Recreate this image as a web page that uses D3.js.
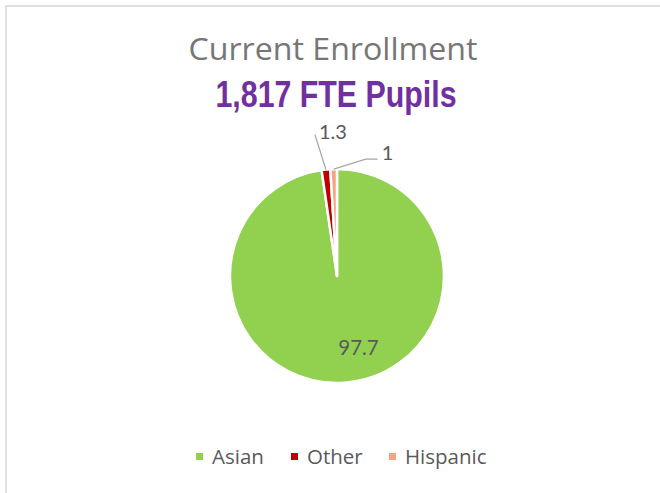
<!DOCTYPE html>
<html>
<head>
<meta charset="utf-8">
<script src="https://cdn.jsdelivr.net/npm/d3@7.9.0/dist/d3.min.js"></script>
<style>
  html, body { margin: 0; padding: 0; background: #fff; }
  svg { display: block; }
</style>
</head>
<body>
<svg id="chart" width="660" height="493"></svg>
<script>
const categories = ['Asian', 'Other', 'Hispanic'];
const shares = [97.7, 1.3, 1];
const shareLabels = ['97.7', '1.3', '1'];
const sliceColors = ['#92D050', '#C00000', '#F4A582'];

const title = 'Current Enrollment';
const subtitle = '1,817 FTE Pupils';

const data = categories.map((c, i) => ({ label: c, value: shares[i], text: shareLabels[i] }));

const svg = d3.select('#chart');
const cx = 337, cy = 276, radius = 107;

// chart frame (only top and left edges show in the crop)
svg.append('rect')
  .attr('x', 6).attr('y', 6)
  .attr('width', 700).attr('height', 520)
  .attr('fill', 'none')
  .attr('stroke', '#D9D9D9')
  .attr('stroke-width', 1.6);

svg.append('text')
  .attr('x', 333).attr('y', 60)
  .attr('text-anchor', 'middle')
  .attr('font-family', '"Open Sans", "Noto Sans", sans-serif')
  .attr('font-size', 31)
  .attr('fill', '#767676')
  .attr('textLength', 289)
  .attr('lengthAdjust', 'spacingAndGlyphs')
  .text(title);

svg.append('text')
  .attr('x', 336).attr('y', 107)
  .attr('text-anchor', 'middle')
  .attr('font-family', '"Liberation Sans Narrow", "Liberation Sans", Arial, sans-serif')
  .attr('font-weight', 'bold')
  .attr('font-size', 36)
  .attr('fill', '#7030A0')
  .attr('textLength', 241)
  .attr('lengthAdjust', 'spacingAndGlyphs')
  .text(subtitle);

const pie = d3.pie().sort(null).value(d => d.value);
const arcs = pie(data);
const arc = d3.arc().innerRadius(0).outerRadius(radius);
const color = d3.scaleOrdinal().domain(categories).range(sliceColors);

const g = svg.append('g').attr('transform', `translate(${cx},${cy})`);

g.selectAll('path')
  .data(arcs)
  .join('path')
  .attr('d', arc)
  .attr('fill', d => color(d.data.label))
  .attr('stroke', '#fff')
  .attr('stroke-width', 2.5)
  .attr('stroke-linejoin', 'round');

// big slice label inside
const innerArc = d3.arc().innerRadius(radius * 0.68).outerRadius(radius * 0.68);
const big = arcs[0];
const [bx, by] = innerArc.centroid(big);
g.append('text')
  .attr('x', bx - 4).attr('y', by + 6)
  .attr('font-family', 'Lato, "Open Sans", sans-serif')
  .attr('font-size', 20.5)
  .attr('fill', '#595959')
  .text(big.data.text);

// small slices: leader lines out of the rim
const rimArc = d3.arc().innerRadius(radius).outerRadius(radius);
const leaderSpec = {
  Other:    { bends: [[-11, -35]], dx: 4, dy: 4 },
  Hispanic: { bends: [[32, -10], [44, -10]], dx: 4, dy: 1 }
};

arcs.slice(1).forEach(d => {
  const [sx, sy] = rimArc.centroid(d);
  const spec = leaderSpec[d.data.label];
  const pts = [[sx, sy]].concat(spec.bends.map(([ox, oy]) => [sx + ox, sy + oy]));
  g.append('path')
    .attr('d', d3.line()(pts))
    .attr('fill', 'none')
    .attr('stroke', '#A6A6A6')
    .attr('stroke-width', 1.3);
  const end = pts[pts.length - 1];
  g.append('text')
    .attr('x', end[0] + spec.dx).attr('y', end[1] + spec.dy)
    .attr('font-family', 'Lato, "Open Sans", sans-serif')
    .attr('font-size', 20)
    .attr('fill', '#595959')
    .text(d.data.text);
});

// legend
const legendX = [196, 291, 389];
const legend = svg.append('g');
const items = legend.selectAll('g')
  .data(data)
  .join('g')
  .attr('transform', (d, i) => `translate(${legendX[i]},457)`);

items.append('rect')
  .attr('x', 0).attr('y', -4)
  .attr('width', 7).attr('height', 7)
  .attr('fill', d => color(d.label));

items.append('text')
  .attr('x', 16).attr('y', 7)
  .attr('font-family', '"Open Sans", "Noto Sans", sans-serif')
  .attr('font-size', 20.5)
  .attr('fill', '#595959')
  .text(d => d.label);
</script>
</body>
</html>
